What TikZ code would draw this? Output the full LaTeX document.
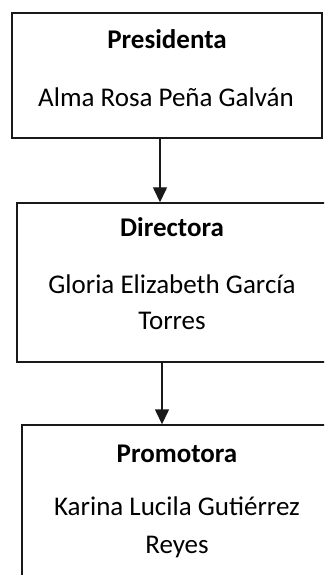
\documentclass[tikz,border=0pt]{standalone}
\usepackage{fontspec}
\setmainfont{Carlito}
\usetikzlibrary{arrows.meta}
\begin{document}
\begin{tikzpicture}[x=1bp,y=-1bp,
  box/.style={draw=black!90,line width=1.4bp,rectangle,inner sep=0pt},
  ttl/.style={anchor=base,inner sep=0pt,font=\fontsize{27bp}{37bp}\selectfont\bfseries},
  nm/.style={anchor=base,inner sep=0pt,font=\fontsize{27bp}{37bp}\selectfont},
  arr/.style={draw=black!90,line width=1.4bp,-{Triangle[length=15bp,width=14bp]}}]
\useasboundingbox (0,0) rectangle (324,575);
\clip (0,0) rectangle (324,575);
\node[box,minimum width=310bp,minimum height=125bp] (b1) at (167,75.5) {};
\node[box,minimum width=313bp,minimum height=159bp] (b2) at (173.5,282.5) {};
\node[box,minimum width=310bp,minimum height=175bp] (b3) at (177,512.5) {};
\node[ttl] (t1) at (167,49) {Presidenta};
\node[nm] (n1) at (166,107) {Alma Rosa Peña Galván};
\node[ttl] (t2) at (172,236) {Directora};
\node[nm] (n2a) at (172,293) {Gloria Elizabeth García};
\node[nm] (n2b) at (172,329) {Torres};
\node[ttl] (t3) at (177,462) {Promotora};
\node[nm] (n3a) at (177,515) {Karina Lucila Gutiérrez};
\node[nm] (n3b) at (177,553) {Reyes};
\draw[arr] ([xshift=-7bp]b1.south) -- ([xshift=-7bp]b1.south |- b2.north);
\draw[arr] ([xshift=-11.5bp]b2.south) -- ([xshift=-11.5bp]b2.south |- b3.north);
\end{tikzpicture}
\end{document}
